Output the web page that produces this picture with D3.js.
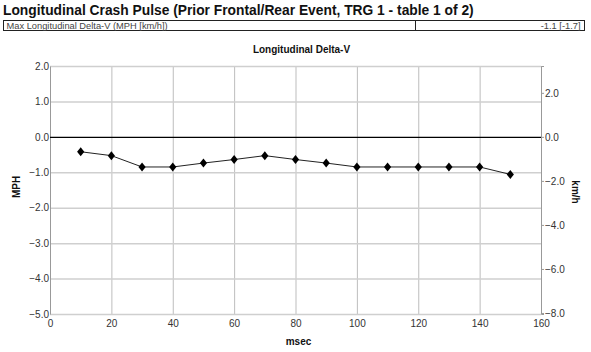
<!DOCTYPE html>
<html>
<head>
<meta charset="utf-8">
<script src="https://cdn.jsdelivr.net/npm/d3@7"></script>
<style>
  body { margin: 0; background: #fff; }
  text { font-family: "Liberation Sans", Arial, sans-serif; }
</style>
</head>
<body>
<div id="chart"></div>
<script>
// data
const msec = [10, 20, 30, 40, 50, 60, 70, 80, 90, 100, 110, 120, 130, 140, 150];
const deltaV = [-0.42, -0.53, -0.85, -0.85, -0.74, -0.64, -0.53, -0.64, -0.74, -0.85, -0.85, -0.85, -0.85, -0.85, -1.06];
const xTicks = [0, 20, 40, 60, 80, 100, 120, 140, 160];
const mphTicks = [2, 1, 0, -1, -2, -3, -4, -5];
const kmhTicks = [2, 0, -2, -4, -6, -8];
const titleText = "Longitudinal Crash Pulse (Prior Frontal/Rear Event, TRG 1 - table 1 of 2)";
const rowLabel = "Max Longitudinal Delta-V (MPH [km/h])";
const rowValue = "-1.1 [-1.7]";
const KMH = 1.609344;

const W = 591, H = 352;
const margin = {top: 66, right: 50, bottom: 38, left: 50};
const width = W - margin.left - margin.right;
const height = H - margin.top - margin.bottom;

const svg = d3.select("#chart").append("svg")
    .attr("width", W)
    .attr("height", H);

// header
svg.append("text")
    .attr("x", 3).attr("y", 15)
    .attr("font-size", 13.8).attr("font-weight", "bold")
    .attr("fill", "#111")
    .text(titleText);

let row = svg.append("g").attr("transform", "translate(3.5,20.5)");
row.append("rect").attr("width", 581).attr("height", 10)
    .attr("fill", "none").attr("stroke", "#222");
row.append("line").attr("x1", 412).attr("x2", 412).attr("y1", 0).attr("y2", 10)
    .attr("stroke", "#222");
row.append("text").attr("x", 3).attr("y", 8.5)
    .attr("font-size", 9.3).attr("fill", "#444").text(rowLabel);
row.append("text").attr("x", 577).attr("y", 8.5).attr("text-anchor", "end")
    .attr("font-size", 9.3).attr("fill", "#444").text(rowValue);

const g = svg.append("g")
    .attr("transform", "translate(" + margin.left + "," + margin.top + ")");

const x = d3.scaleLinear().domain([0, 160]).range([0, width]);
const y = d3.scaleLinear().domain([-5, 2]).range([height, 0]);
const y2 = d3.scaleLinear().domain([-5 * KMH, 2 * KMH]).range([height, 0]);

// grid
g.append("g").selectAll("line").data(xTicks).join("line")
    .attr("x1", d => x(d) + 0.5).attr("x2", d => x(d) + 0.5)
    .attr("y1", 0).attr("y2", height)
    .attr("stroke", "#bdbdbd");
g.append("g").selectAll("line").data(mphTicks.filter(d => d !== 0)).join("line")
    .attr("x1", 0).attr("x2", width)
    .attr("y1", d => y(d) + 0.5).attr("y2", d => y(d) + 0.5)
    .attr("stroke", "#cfcfcf").attr("stroke-width", 1.5);

// axes
const yAxisL = d3.axisLeft(y).tickValues(mphTicks).tickFormat(d3.format(".1f")).tickSize(0).tickPadding(1);
const yAxisR = d3.axisRight(y2).tickValues(kmhTicks).tickFormat(d3.format(".1f")).tickSize(3).tickPadding(1);
const xAxis = d3.axisBottom(x).tickValues(xTicks).tickSize(0).tickPadding(6);

function styleAxis(sel) {
    sel.select(".domain").attr("stroke", "#999");
    sel.selectAll(".tick line").attr("stroke", "#999");
    sel.selectAll("text").attr("fill", "#333").attr("font-size", 10)
        .attr("font-family", "'Liberation Sans', Arial, sans-serif");
}
g.append("g").call(yAxisL).call(styleAxis);
g.append("g").attr("transform", "translate(" + width + ",0)").call(yAxisR).call(styleAxis);
g.append("g").attr("transform", "translate(0," + height + ")").call(xAxis).call(styleAxis)
    .select(".domain").remove();

// zero line
g.append("line")
    .attr("x1", 0).attr("x2", width)
    .attr("y1", y(0) + 0.5).attr("y2", y(0) + 0.5)
    .attr("stroke", "#000").attr("stroke-width", 1.2);

// series
const pts = msec.map((m, i) => ({m: m, v: deltaV[i]}));
const line = d3.line().x(d => x(d.m)).y(d => y(d.v));
g.append("path").datum(pts)
    .attr("d", line)
    .attr("fill", "none")
    .attr("stroke", "#222")
    .attr("stroke-width", 1);

g.selectAll(".dot").data(pts).join("path")
    .attr("class", "dot")
    .attr("transform", d => "translate(" + x(d.m) + "," + y(d.v) + ")")
    .attr("d", "M0,-4.5L3.6,0L0,4.5L-3.6,0Z")
    .attr("fill", "#000");

// titles
svg.append("text")
    .attr("x", margin.left + width / 2 + 6).attr("y", 53)
    .attr("text-anchor", "middle").attr("font-size", 10).attr("font-weight", "bold")
    .attr("fill", "#111").text("Longitudinal Delta-V");
svg.append("text")
    .attr("x", margin.left + width / 2 + 3).attr("y", 345)
    .attr("text-anchor", "middle").attr("font-size", 10).attr("font-weight", "bold")
    .attr("fill", "#111").text("msec");
svg.append("text")
    .attr("transform", "translate(20," + (margin.top + height / 2 - 3) + ") rotate(-90)")
    .attr("text-anchor", "middle").attr("font-size", 10).attr("font-weight", "bold")
    .attr("fill", "#111").text("MPH");
svg.append("text")
    .attr("transform", "translate(572," + (margin.top + height / 2 + 2) + ") rotate(90)")
    .attr("text-anchor", "middle").attr("font-size", 10).attr("font-weight", "bold")
    .attr("fill", "#111").text("km/h");
</script>
</body>
</html>
